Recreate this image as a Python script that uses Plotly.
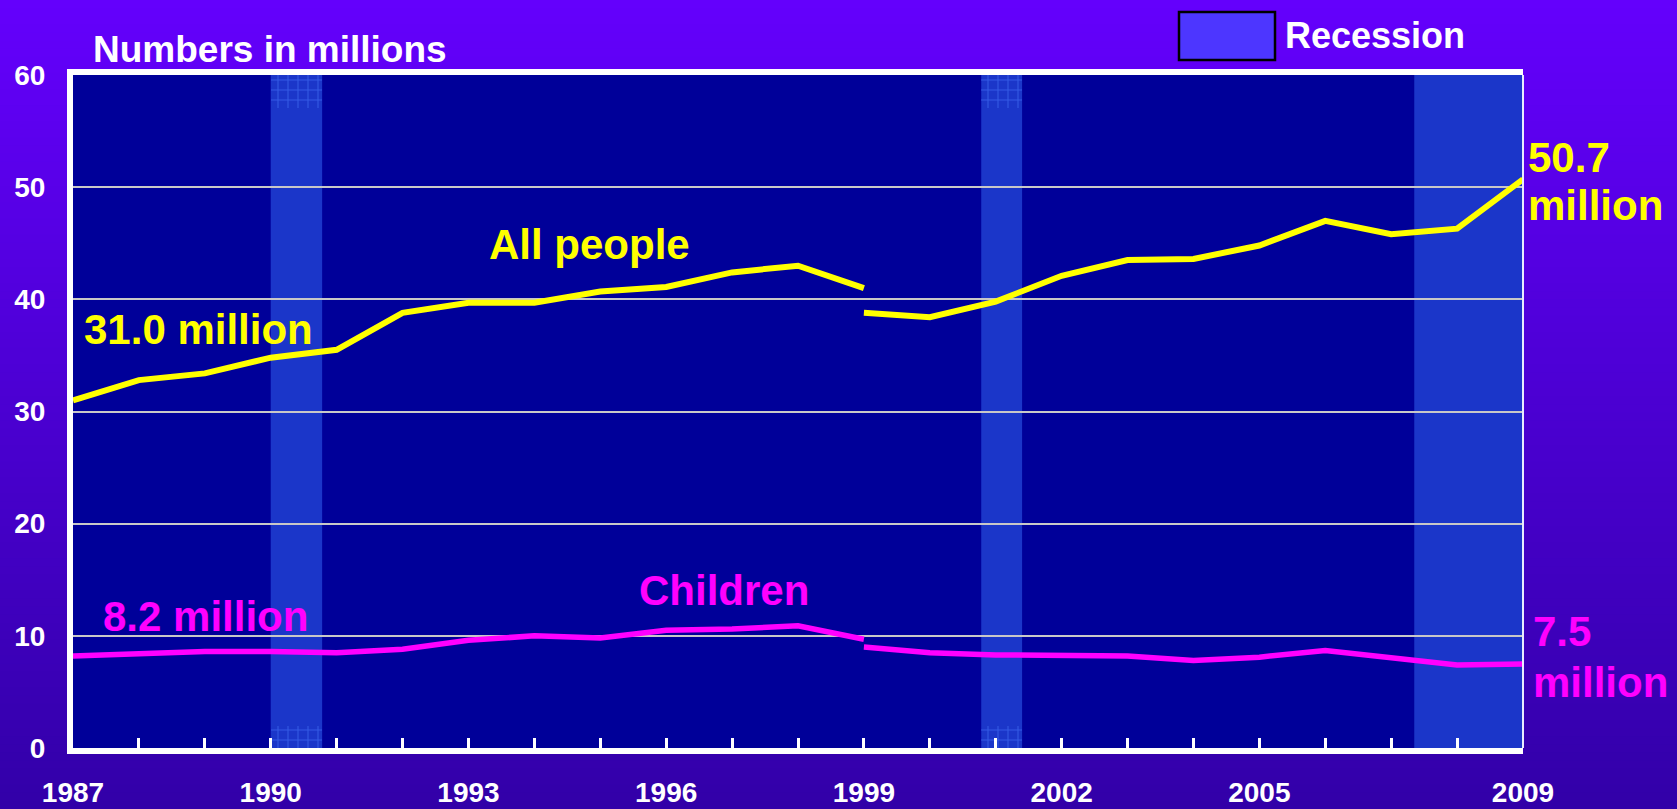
import plotly.graph_objects as go

# ---------------- data ----------------
years_a = list(range(1987, 2000))
years_b = list(range(1999, 2010))
all_people_a = [31.0, 32.8, 33.4, 34.8, 35.5, 38.8, 39.7, 39.7, 40.7, 41.1, 42.4, 43.0, 41.0]
all_people_b = [38.8, 38.4, 39.8, 42.1, 43.5, 43.6, 44.8, 47.0, 45.8, 46.3, 50.7]
children_a = [8.2, 8.4, 8.6, 8.6, 8.5, 8.8, 9.6, 10.0, 9.8, 10.5, 10.6, 10.9, 9.7]
children_b = [9.0, 8.5, 8.3, 8.3, 8.2, 7.8, 8.1, 8.7, 8.1, 7.4, 7.5]
recession_start = [1990.0, 2000.78, 2007.35]
recession_end = [1990.78, 2001.40, 2009.0]
recession_hatched = [True, True, False]
x_tick_years = [1987, 1990, 1993, 1996, 1999, 2002, 2005, 2009]
minor_tick_years = list(range(1987, 2010))
y_ticks = [0, 10, 20, 30, 40, 50, 60]
hatch_bands = [(0, 2.0), (57.1, 60)]

# ---------------- layout geometry ----------------
W, H = 1677, 809
ML, MR, MT, MB = 73, 154, 75, 61
PW, PH = W - ML - MR, H - MT - MB


def px_x(x):
    return (x - ML) / PW


def px_y(y):
    return (H - MB - y) / PH


FONT = "Liberation Sans, Arial, Helvetica, sans-serif"
YELLOW = "#ffff00"
MAGENTA = "#ff00ff"

fig = go.Figure()

# hatch patterns at top/bottom of first two recession bands
for s, e, h in zip(recession_start, recession_end, recession_hatched):
    if not h:
        continue
    for b0, b1 in hatch_bands:
        fig.add_trace(go.Bar(
            x=[(s + e) / 2], y=[b1 - b0], base=[b0], width=[e - s],
            marker=dict(color="rgba(0,0,0,0)", line=dict(width=0),
                        pattern=dict(shape="+", size=10, solidity=0.2,
                                     fgcolor="#4a7cff", bgcolor="rgba(0,0,0,0)")),
            hoverinfo="skip", showlegend=False))

# data lines
for xs, ys, col, w in [(years_a, all_people_a, YELLOW, 6), (years_b, all_people_b, YELLOW, 6),
                       (years_a, children_a, MAGENTA, 5.5), (years_b, children_b, MAGENTA, 5.5)]:
    fig.add_trace(go.Scatter(x=xs, y=ys, mode="lines",
                             line=dict(color=col, width=w), showlegend=False,
                             hoverinfo="x+y"))

shapes = []
# gradient background strips
N = 100
top = (100, 0, 252)
bot = (50, 0, 168)
for i in range(N):
    y0 = i * H / N - (40 if i == 0 else 0)
    y1 = (i + 1) * H / N + (40 if i == N - 1 else 1)
    t = (i + 0.5) / N
    c = tuple(round(top[k] + (bot[k] - top[k]) * t) for k in range(3))
    shapes.append(dict(type="rect", xref="paper", yref="paper", layer="below",
                       x0=px_x(-20), x1=px_x(W + 20), y0=px_y(y1), y1=px_y(y0),
                       fillcolor="rgb(%d,%d,%d)" % c, line=dict(width=0)))
# plot area
shapes.append(dict(type="rect", xref="paper", yref="paper", layer="below",
                   x0=0, x1=1, y0=0, y1=1, fillcolor="#000099", line=dict(width=0)))
# recession bands
for s, e in zip(recession_start, recession_end):
    shapes.append(dict(type="rect", xref="x", yref="paper", layer="below",
                       x0=s, x1=e, y0=0, y1=1, fillcolor="#1b36c9", line=dict(width=0)))
# right thin border
shapes.append(dict(type="line", xref="paper", yref="paper", x0=1, x1=1, y0=0, y1=1,
                   line=dict(color="#e8ecff", width=2)))
# legend box
shapes.append(dict(type="rect", xref="paper", yref="paper",
                   x0=px_x(1179), x1=px_x(1275), y0=px_y(60), y1=px_y(12),
                   fillcolor="#4d36ff", line=dict(color="black", width=2.5)))

annotations = []


def ann(text, x, y, color, size, xanchor="center"):
    annotations.append(dict(text=text, x=px_x(x), y=px_y(y), xref="paper", yref="paper",
                            xanchor=xanchor, yanchor="middle", showarrow=False,
                            font=dict(family=FONT, size=size, color=color, weight="bold")))


ann("Numbers in millions", 270, 50, "white", 37)
ann("Recession", 1283, 36, "white", 36, "left")
ann("All people", 589, 244, YELLOW, 42)
ann("Children", 724, 590, MAGENTA, 42)
ann("31.0 million", 198, 329, YELLOW, 42)
ann("8.2 million", 205, 616, MAGENTA, 42)
ann("50.7", 1526, 157, YELLOW, 42, "left")
ann("million", 1526, 206, YELLOW, 42, "left")
ann("7.5", 1531, 631, MAGENTA, 42, "left")
ann("million", 1531, 682, MAGENTA, 42, "left")

fig.update_layout(
    width=W, height=H, autosize=False,
    margin=dict(l=ML, r=MR, t=MT, b=MB, pad=0, autoexpand=False),
    paper_bgcolor="#4b00d2", plot_bgcolor="rgba(0,0,0,0)",
    barmode="overlay", bargap=0,
    shapes=shapes, annotations=annotations,
    showlegend=False,
    xaxis=dict(range=[1987, 2009], showgrid=False, zeroline=False, automargin=False,
               showline=True, linecolor="white", linewidth=6, mirror=True,
               tickmode="array", tickvals=x_tick_years,
               ticktext=[str(v) for v in x_tick_years],
               ticks="inside", ticklen=10, tickwidth=3, tickcolor="white",
               minor=dict(tickmode="array", tickvals=minor_tick_years, ticks="inside",
                          ticklen=10, tickwidth=3, tickcolor="white", showgrid=False),
               ticklabelstandoff=14,
               tickfont=dict(family=FONT, size=28, color="white", weight="bold")),
    yaxis=dict(range=[0, 60], tickmode="array", tickvals=y_ticks, automargin=False,
               showgrid=True, gridcolor="#c8c8c8", gridwidth=2, zeroline=False,
               showline=True, linecolor="white", linewidth=6,
               ticks="", ticklabelstandoff=16,
               tickfont=dict(family=FONT, size=28, color="white", weight="bold")),
)

post = """
var d = document.documentElement, b = document.body;
d.style.margin='0'; d.style.padding='0'; d.style.overflow='hidden';
b.style.margin='0'; b.style.padding='0'; b.style.overflow='hidden';
b.style.background='#3200a8';
"""

fig.write_html("out.html", config={"displayModeBar": False}, post_script=post)
